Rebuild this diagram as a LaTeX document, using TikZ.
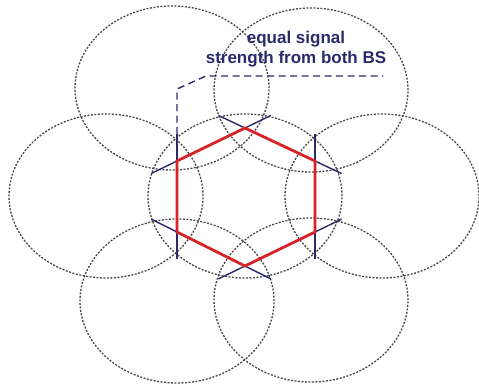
\documentclass[tikz,border=0pt]{standalone}
\usepackage{fontspec}
\usepackage{tikz}
\usetikzlibrary{calc}
\newfontfamily\labelfont{Liberation Sans}
\definecolor{bsnavy}{RGB}{42,42,108}
\definecolor{cellred}{RGB}{214,34,40}

\begin{document}
\begin{tikzpicture}[x=1pt,y=-1pt,
  bsrange/.style={draw=black!72,line width=1.3pt,dash pattern=on 2pt off 1.5pt},
  bisector/.style={draw=bsnavy,line width=1.4pt},
  cellborder/.style={draw=cellred,line width=2.8pt,line join=miter},
  leader/.style={draw=bsnavy,line width=1.4pt,dash pattern=on 7pt off 4.5pt},
  note/.style={text=bsnavy,font=\labelfont\bfseries\fontsize{17}{20}\selectfont,align=center,inner sep=0pt}]
\useasboundingbox (0,0) rectangle (479,390);

% base stations
\coordinate (C) at (245,196);
\coordinate (L) at (106,196);
\coordinate (R) at (382,196);
\coordinate (TL) at (172,88);
\coordinate (TR) at (311,90);
\coordinate (BL) at (177,301);
\coordinate (BR) at (311,300);

\foreach \bs in {C,L,R,TL,TR,BL,BR}
  \draw[bsrange] (\bs) ellipse [x radius=97pt,y radius=82pt];

% cell corners
\coordinate (h1) at (245,128);
\coordinate (h2) at (315,161);
\coordinate (h3) at (315,232);
\coordinate (h4) at (245,266);
\coordinate (h5) at (177,232);
\coordinate (h6) at (177,161);

\foreach \a/\b in {h1/h2,h2/h3,h3/h4,h4/h5,h5/h6,h6/h1}
  \draw[bisector] ($(\a)!-0.38!(\b)$) -- ($(\b)!-0.38!(\a)$);

\draw[cellborder] (h1) -- (h2) -- (h3) -- (h4) -- (h5) -- (h6) -- cycle;

\node[note] (lbl) at (296,49) {equal signal\\strength from both BS};

\coordinate (edge) at ($(h6)!-0.38!(h5)$);
\coordinate (lend) at (383,76);
\draw[leader] (edge) -- (177,89) -- (206,76) -- (lend);
\end{tikzpicture}
\end{document}
